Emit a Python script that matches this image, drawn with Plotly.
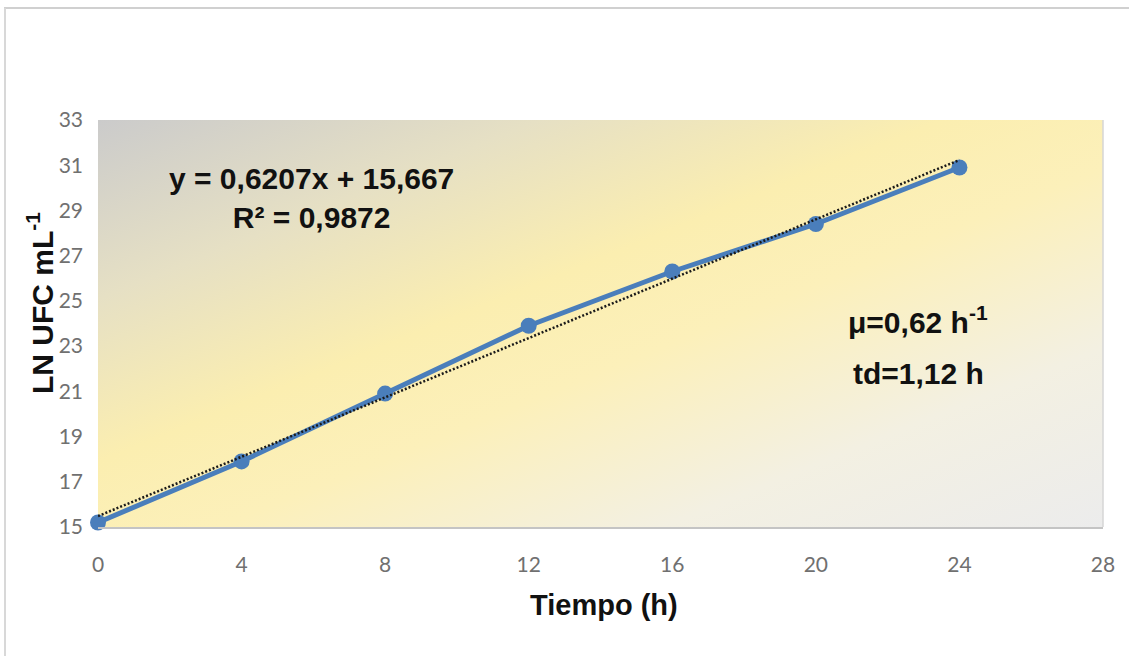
import base64
import numpy as np
import plotly.graph_objects as go

# Data
tiempo_h = [0, 4, 8, 12, 16, 20, 24]
ln_ufc = [15.2, 17.9, 20.9, 23.9, 26.3, 28.4, 30.9]
x_ticks = [0, 4, 8, 12, 16, 20, 24, 28]
y_ticks = [15, 17, 19, 21, 23, 25, 27, 29, 31, 33]
eq_text = "y = 0,6207x + 15,667<br>R² = 0,9872"
mu_text = "μ=0,62 h<sup>-1</sup>"
td_text = "td=1,12 h"

# Linear trendline from the data
slope, intercept = np.polyfit(tiempo_h, ln_ufc, 1)
trend_x = [tiempo_h[0], tiempo_h[-1]]
trend_y = [intercept + slope * v for v in trend_x]

svg = """<svg xmlns='http://www.w3.org/2000/svg' width='1000' height='400' viewBox='0 0 1000 400' preserveAspectRatio='none'>
<defs><linearGradient id='g' x1='0' y1='0' x2='1' y2='1'>
<stop offset='0' stop-color='#cbcbcb'/>
<stop offset='0.22' stop-color='#e6e0c4'/>
<stop offset='0.42' stop-color='#fbeeb0'/>
<stop offset='0.56' stop-color='#fcf0ba'/>
<stop offset='0.78' stop-color='#f3f0e2'/>
<stop offset='1' stop-color='#ececec'/>
</linearGradient></defs>
<rect width='1000' height='400' fill='url(#g)'/></svg>"""
svg_uri = "data:image/svg+xml;base64," + base64.b64encode(svg.encode()).decode()

fig = go.Figure()
fig.add_trace(go.Scatter(
    x=tiempo_h, y=ln_ufc, mode="lines+markers",
    line=dict(color="#4a7ebb", width=5),
    marker=dict(color="#4a7ebb", size=16),
    cliponaxis=False, showlegend=False, hoverinfo="x+y"))
fig.add_trace(go.Scatter(
    x=trend_x, y=trend_y, mode="lines",
    line=dict(color="#1a1a1a", width=2.5, dash="2px,2px"),
    cliponaxis=False, showlegend=False, hoverinfo="skip"))

L, R, T, B = 98, 26, 120, 129
W, H = 1129, 656
pw, ph = W - L - R, H - T - B

def px(xp):
    return (xp - L) / pw

def py(yp):
    return (H - B - yp) / ph

bold_narrow = "Liberation Sans Narrow, Arial Narrow, Liberation Sans, sans-serif"
tickfont = dict(family="Lato, Open Sans, sans-serif", size=21, color="#707070")

fig.update_layout(
    width=W, height=H,
    margin=dict(l=L, r=R, t=T, b=B),
    paper_bgcolor="white",
    plot_bgcolor="rgba(0,0,0,0)",
    images=[dict(source=svg_uri, xref="paper", yref="paper", x=0, y=1,
                 sizex=1, sizey=1, sizing="stretch", xanchor="left",
                 yanchor="top", layer="below")],
    xaxis=dict(range=[0, 28], tickvals=x_ticks, showgrid=False, zeroline=False,
               showline=True, linecolor="#c4c4c4", linewidth=1.5,
               ticks="", ticklabelstandoff=18, tickfont=tickfont),
    yaxis=dict(range=[15, 33], tickvals=y_ticks, showgrid=False, zeroline=False,
               showline=False, ticks="", ticklabelstandoff=14, tickfont=tickfont),
    shapes=[
        dict(type="line", xref="paper", yref="paper", x0=1, x1=1, y0=0, y1=1,
             line=dict(color="#d6d6d6", width=1.5)),
        dict(type="line", xref="paper", yref="paper", x0=px(4), x1=px(1129), y0=py(8), y1=py(8),
             line=dict(color="#d0d0d0", width=2)),
        dict(type="line", xref="paper", yref="paper", x0=px(5), x1=px(5), y0=py(8), y1=py(656),
             line=dict(color="#d8d8d8", width=2)),
    ],
    annotations=[
        dict(text=eq_text, xref="paper", yref="paper", x=px(311), y=py(198),
             showarrow=False, xanchor="center", yanchor="middle",
             font=dict(family=bold_narrow, size=30, color="#111111", weight="bold")),
        dict(text=mu_text, xref="paper", yref="paper", x=px(918), y=py(320),
             showarrow=False, xanchor="center", yanchor="middle",
             font=dict(family=bold_narrow, size=30, color="#111111", weight="bold")),
        dict(text=td_text, xref="paper", yref="paper", x=px(918), y=py(373),
             showarrow=False, xanchor="center", yanchor="middle",
             font=dict(family=bold_narrow, size=30, color="#111111", weight="bold")),
        dict(text="LN UFC mL<sup>-1</sup>", xref="paper", yref="paper", x=px(40), y=py(303),
             showarrow=False, xanchor="center", yanchor="middle", textangle=-90,
             font=dict(family="Liberation Sans, Arial, sans-serif",
                       size=30, color="#111111", weight="bold")),
        dict(text="Tiempo (h)", xref="paper", yref="paper", x=px(604), y=py(605),
             showarrow=False, xanchor="center", yanchor="middle",
             font=dict(family=bold_narrow, size=29, color="#111111", weight="bold")),
    ],
)

fig.write_html("out.html")
